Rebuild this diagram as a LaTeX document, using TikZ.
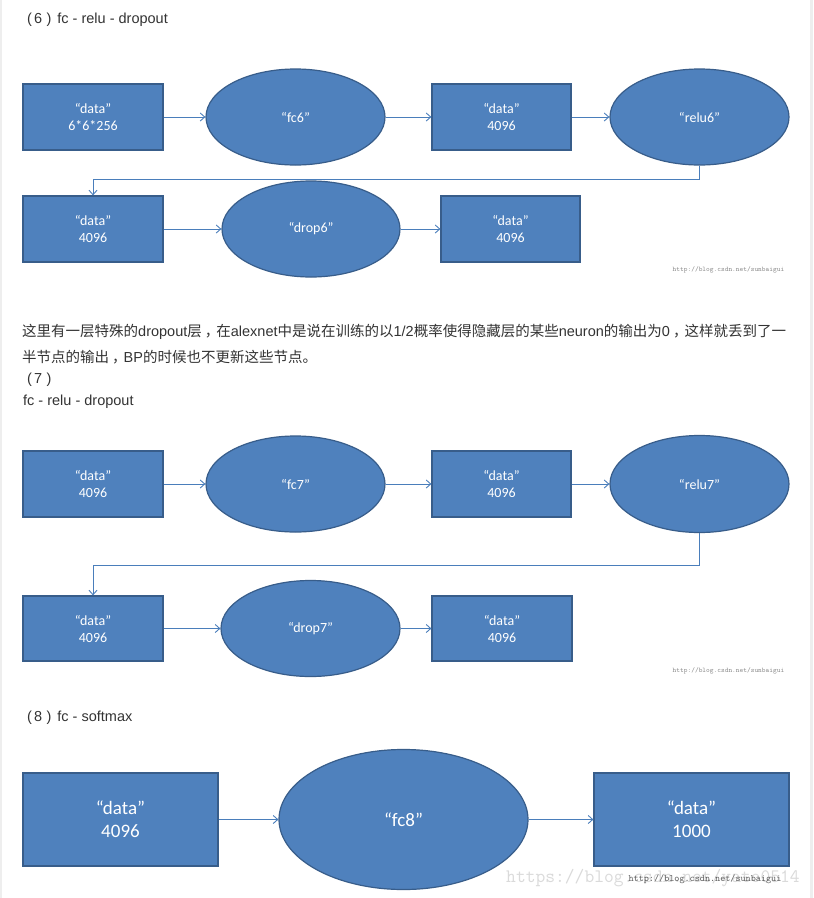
\documentclass[tikz,border=0pt]{standalone}
\usepackage{fontspec}
\setmainfont{Liberation Sans}
\newfontfamily\cjk{Noto Sans CJK SC}
\newfontfamily\carlito{Carlito}
\usetikzlibrary{shapes.geometric,arrows.meta}
\definecolor{boxblue}{RGB}{79,129,189}
\definecolor{boxborder}{RGB}{56,93,138}
\definecolor{connblue}{RGB}{74,126,187}
\definecolor{textgray}{RGB}{51,51,51}
\definecolor{edgegray}{RGB}{238,238,238}
\definecolor{wmgray}{RGB}{140,140,140}
\definecolor{wmdark}{RGB}{90,90,90}
\definecolor{wmlight}{RGB}{218,218,218}
\newcommand{\parnum}[1]{(\hspace{2pt}#1\hspace{4.5pt})}
\newcommand{\cjkcomma}{\hspace{3pt}，\hspace{-3pt}}
\tikzset{
  box/.style={draw=boxborder, fill=boxblue, line width=1.2pt, inner sep=0pt, text=white, align=center,
    font=\carlito\fontsize{14}{17}\selectfont, minimum width=140pt, minimum height=66pt},
  oval/.style={ellipse, draw=boxborder, fill=boxblue, line width=1.2pt, inner sep=0pt, text=white,
    font=\carlito\fontsize{14}{17}\selectfont, minimum width=179pt, minimum height=96pt},
  bigbox/.style={box, font=\carlito\fontsize{19}{23}\selectfont, minimum width=195pt, minimum height=93pt},
  bigoval/.style={oval, font=\carlito\fontsize{19}{23}\selectfont, minimum width=249pt, minimum height=140pt},
  conn/.style={draw=connblue, line width=0.9pt, -{Straight Barb[length=4.5pt,width=8pt]}},
  txt/.style={anchor=west, inner sep=0pt, text=textgray, font=\fontsize{14.5}{18}\selectfont},
  wm/.style={anchor=center, inner sep=0pt, text=wmgray, font=\ttfamily\fontsize{7}{8}\selectfont},
}
\begin{document}
\begin{tikzpicture}[x=1pt,y=-1pt]
\useasboundingbox (0,0) rectangle (814,898);
\fill[white] (0,0) rectangle (814,898);
\fill[edgegray] (0,0) rectangle (2,898);
\fill[edgegray] (810,0) rectangle (813,898);

% section 6
\node[txt] (t6) at (27,20) {\parnum{6}\hspace{6pt}fc - relu - dropout};
\node[box] (d1) at (93,117) {“data”\\6*6*256};
\node[oval] (fc6) at (295.5,117) {“fc6”};
\node[box, minimum width=139pt] (d2) at (501.5,117) {“data”\\4096};
\node[oval] (relu6) at (699.5,117) {“relu6”};
\node[box] (d3) at (93,229) {“data”\\4096};
\node[oval, minimum width=178pt] (drop6) at (311,229) {“drop6”};
\node[box, minimum width=139pt] (d4) at (510.5,229) {“data”\\4096};
\draw[conn] (d1.east) -- (fc6.west);
\draw[conn] (fc6.east) -- (d2.west);
\draw[conn] (d2.east) -- (relu6.west);
\draw[conn] (relu6.south) -- ++(0,14) -| (d3.north);
\draw[conn] (d3.east) -- (drop6.west);
\draw[conn] (drop6.east) -- (d4.west);
\node[wm] (w6) at (728.5,270) {http://blog.csdn.net/sunbaigui};

% paragraph
\node[txt] (p1) at (22,332) {{\cjk 这里有一层特殊的}dropout{\cjk 层\cjkcomma 在}alexnet{\cjk 中是说在训练的以}1/2{\cjk 概率使得隐藏层的某些}neuron{\cjk 的输出为}0{\cjk \cjkcomma 这样就丢到了一}};
\node[txt] (p2) at (22,357) {{\cjk 半节点的输出\cjkcomma}BP{\cjk 的时候也不更新这些节点。}};
\node[txt] (t7) at (27,380) {\parnum{7}};
\node[txt] (t7b) at (23,402) {fc - relu - dropout};

% section 7
\node[box] (d5) at (93,484) {“data”\\4096};
\node[oval] (fc7) at (295.5,484) {“fc7”};
\node[box, minimum width=139pt] (d6) at (501.5,484) {“data”\\4096};
\node[oval, minimum height=97pt] (relu7) at (699.5,484) {“relu7”};
\node[box, minimum height=65pt] (d7) at (93,628.5) {“data”\\4096};
\node[oval] (drop7) at (310.5,628.5) {“drop7”};
\node[box, minimum height=65pt] (d8) at (502,628.5) {“data”\\4096};
\draw[conn] (d5.east) -- (fc7.west);
\draw[conn] (fc7.east) -- (d6.west);
\draw[conn] (d6.east) -- (relu7.west);
\draw[conn] (relu7.south) -- ++(0,32) -| (d7.north);
\draw[conn] (d7.east) -- (drop7.west);
\draw[conn] (drop7.east) -- (d8.west);
\node[wm] (w7) at (728.5,671) {http://blog.csdn.net/sunbaigui};

% section 8
\node[txt] (t8) at (27,718) {\parnum{8}\hspace{6pt}fc - softmax};
\node[bigbox] (d9) at (120.5,819.5) {“data”\\4096};
\node[bigoval] (fc8) at (403.5,819.5) {“fc8”};
\node[bigbox] (d10) at (691.5,819.5) {“data”\\1000};
\draw[conn] (d9.east) -- (fc8.west);
\draw[conn] (fc8.east) -- (d10.west);
\node[wm, text=wmlight, font=\ttfamily\fontsize{19}{20}\selectfont] (w8b) at (653,878) {https://blog.csdn.net/yato0514};
\node[wm, text=wmdark, font=\ttfamily\fontsize{9.7}{11}\selectfont] (w8) at (705,879) {http://blog.csdn.net/sunbaigui};
\end{tikzpicture}
\end{document}
